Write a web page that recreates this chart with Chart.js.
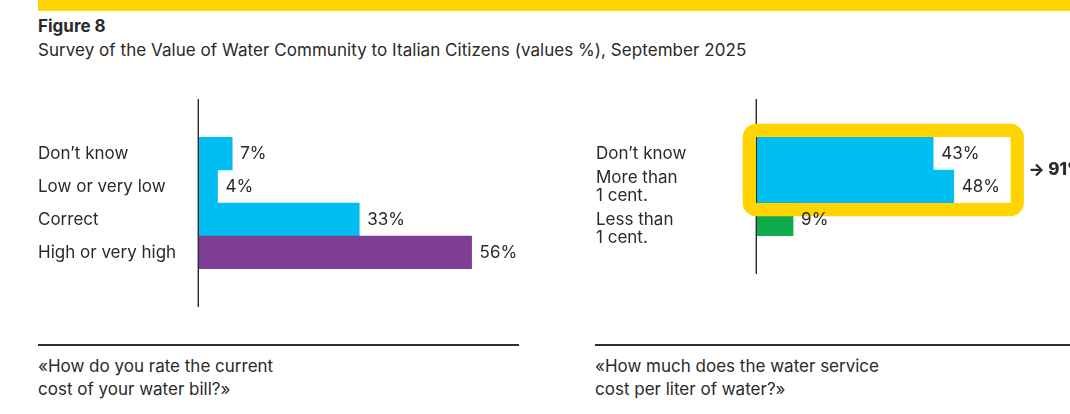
<!DOCTYPE html>
<html>
<head>
<meta charset="utf-8">
<script src="https://cdn.jsdelivr.net/npm/chart.js@4"></script>
<style>
  html, body { margin: 0; padding: 0; background: #fff; }
  body { width: 1070px; height: 414px; position: relative; overflow: hidden;
         font-family: Inter, "Liberation Sans", sans-serif; color: #2a2a2a; }
  .band { position: absolute; left: 38px; top: 0; width: 1032px; height: 11px; background: #FFD400; }
  .txt { position: absolute; font-size: 17px; line-height: 22px; white-space: nowrap; }
  .title { left: 38px; top: 15px; font-weight: 700; }
  .subtitle { left: 38px; top: 39px; letter-spacing: 0.05px; }
  .rule { position: absolute; top: 344px; height: 1.6px; background: #2e2e2e; }
  .caption { top: 355px; line-height: 22.5px; }
  canvas { position: absolute; }
</style>
</head>
<body>
<div class="band"></div>
<div class="txt title">Figure 8</div>
<div class="txt subtitle">Survey of the Value of Water Community to Italian Citizens (values %), September 2025</div>

<canvas id="costChart" width="502" height="208" style="left:38px; top:99px; width:502px; height:208px;"></canvas>
<canvas id="literChart" width="474" height="175" style="left:596px; top:99px; width:474px; height:175px;"></canvas>

<div class="rule" style="left:38px; width:481px;"></div>
<div class="rule" style="left:595px; width:475px;"></div>
<div class="txt caption" style="left:38px;">«How do you rate the current<br>cost of your water bill?»</div>
<div class="txt caption" style="left:595px;">«How much does the water service<br>cost per liter of water?»</div>

<script>
// Survey answers, values in %
const costCategories = ["Don’t know", "Low or very low", "Correct", "High or very high"];
const costValues = [7, 4, 33, 56];

const literCategories = [["Don’t know"], ["More than", "1 cent."], ["", "Less than", "1 cent."]];
const literValues = [43, 48, 9];
const literHighlightRows = [0, 1];

const CYAN = "#00BEF2";
const PURPLE = "#7D3E94";
const GREEN = "#11AB4B";
const YELLOW = "#FFD400";
const INK = "#2a2a2a";

const costColors = [CYAN, CYAN, CYAN, PURPLE];
const literColors = [CYAN, CYAN, GREEN];

Chart.defaults.font.family = "Inter, 'Liberation Sans', sans-serif";
Chart.defaults.font.size = 17;
Chart.defaults.color = INK;

// Axis line, optional highlight frame with its total, and value labels at bar ends
const barDecor = {
  id: "barDecor",
  afterDatasetsDraw(chart, args, opts) {
    const { ctx, scales: { x } } = chart;
    const meta = chart.getDatasetMeta(0);
    const data = chart.data.datasets[0].data;
    const x0 = x.getPixelForValue(0);

    ctx.save();
    ctx.strokeStyle = "#2b2b2b";
    ctx.lineWidth = 1.4;
    ctx.beginPath();
    ctx.moveTo(x0 + 0.3, 0);
    ctx.lineTo(x0 + 0.3, chart.height);
    ctx.stroke();

    if (opts.rows && opts.rows.length) {
      const first = meta.data[opts.rows[0]];
      const last = meta.data[opts.rows[opts.rows.length - 1]];
      const w = 13.3;
      const top = first.y - first.height / 2 - w / 2;
      const bottom = last.y + last.height / 2 + w / 2;
      const left = x0 - w / 2;
      const right = x.getPixelForValue(opts.reach);
      ctx.strokeStyle = YELLOW;
      ctx.lineWidth = w;
      ctx.beginPath();
      ctx.roundRect(left, top, right - left, bottom - top, 7);
      ctx.stroke();

      const total = opts.rows.reduce((s, i) => s + data[i], 0);
      ctx.fillStyle = INK;
      ctx.font = "800 17px Inter, 'Liberation Sans', sans-serif";
      ctx.textAlign = "left";
      ctx.textBaseline = "middle";
      ctx.fillText("→ " + total + "%", right + w / 2 + 4.5, (top + bottom) / 2);
    }

    ctx.fillStyle = INK;
    ctx.font = "400 17px Inter, 'Liberation Sans', sans-serif";
    ctx.textAlign = "left";
    ctx.textBaseline = "middle";
    meta.data.forEach((bar, i) => {
      ctx.fillText(data[i] + "%", bar.x + 8, bar.y + 0.5);
    });
    ctx.restore();
  }
};

function makeChart(id, labels, values, colors, xMax, highlight) {
  return new Chart(document.getElementById(id), {
    type: "bar",
    data: {
      labels,
      datasets: [{
        data: values,
        backgroundColor: colors,
        borderWidth: 0,
        barPercentage: 1,
        categoryPercentage: 1
      }]
    },
    options: {
      indexAxis: "y",
      responsive: false,
      animation: false,
      layout: { padding: { top: 38, bottom: 38, left: 0, right: 0 } },
      plugins: {
        legend: { display: false },
        tooltip: { enabled: false },
        barDecor: highlight || {}
      },
      scales: {
        x: { display: false, min: 0, max: xMax },
        y: {
          grid: { display: false },
          border: { display: false },
          afterFit(scale) { scale.width = 160; },
          ticks: {
            autoSkip: false,
            crossAlign: "far",
            padding: 0,
            color: INK,
            font: { size: 17, lineHeight: 18 / 17 }
          }
        }
      }
    },
    plugins: [barDecor]
  });
}

makeChart("costChart", costCategories, costValues, costColors, 70);
makeChart("literChart", literCategories, literValues, literColors, 76.2,
          { rows: literHighlightRows, reach: 63.4 });
</script>
</body>
</html>
